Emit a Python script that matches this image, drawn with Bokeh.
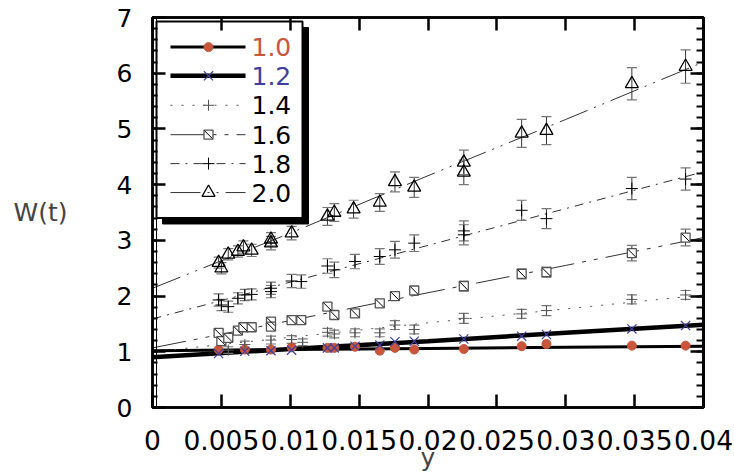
import math

from bokeh.core.properties import value
from bokeh.embed import file_html
from bokeh.models import FixedTicker, LinearAxis, Range1d, Span
from bokeh.plotting import figure
from bokeh.resources import INLINE

FONT = "DejaVu Sans"
RED = "#c9553b"
BLUE = "#3f3f9e"

# ---------------------------------------------------------------- data
x_ticks = [0, 0.005, 0.01, 0.015, 0.02, 0.025, 0.03, 0.035, 0.04]
x_tick_labels = ["0", "0.005", "0.01", "0.015", "0.02", "0.025", "0.03", "0.035", "0.04"]
y_ticks = [0, 1, 2, 3, 4, 5, 6, 7]
y_tick_labels = ["0", "1", "2", "3", "4", "5", "6", "7"]
y_minor_ticks = [i / 5 for i in range(0, 36)]
x_title = "y"
y_title = "W(t)"

series_labels = ["1.0", "1.2", "1.4", "1.6", "1.8", "2.0"]

y10_x = [0.0048, 0.0067, 0.0086, 0.0101, 0.0127, 0.0132, 0.0147, 0.0165, 0.0176, 0.0190,
         0.0226, 0.0268, 0.0286, 0.0348, 0.0387]
y10_w = [1.04, 1.04, 1.04, 1.08, 1.07, 1.07, 1.09, 1.02, 1.07, 1.04,
         1.05, 1.10, 1.14, 1.11, 1.11]

y12_x = [0.0048, 0.0067, 0.0086, 0.0101, 0.0127, 0.0132, 0.0147, 0.0165, 0.0176, 0.0190,
         0.0226, 0.0268, 0.0286, 0.0348, 0.0387]
y12_w = [0.97, 1.01, 1.02, 1.03, 1.07, 1.07, 1.10, 1.12, 1.18, 1.19,
         1.23, 1.28, 1.31, 1.41, 1.47]

y14_x = [0.0055, 0.0067, 0.0086, 0.0101, 0.0109, 0.0127, 0.0132, 0.0147, 0.0165, 0.0176,
         0.0190, 0.0226, 0.0268, 0.0286, 0.0348, 0.0387]
y14_w = [1.03, 1.13, 1.21, 1.22, 1.17, 1.35, 1.32, 1.34, 1.34, 1.48,
         1.40, 1.60, 1.68, 1.74, 1.94, 2.02]
y14_err = [0.06, 0.06, 0.07, 0.07, 0.06, 0.07, 0.07, 0.07, 0.07, 0.08,
           0.08, 0.09, 0.08, 0.09, 0.08, 0.08]

y16_x = [0.0048, 0.0050, 0.0055, 0.0062, 0.0066, 0.0072, 0.0086, 0.0086, 0.0101, 0.0108,
         0.0127, 0.0132, 0.0147, 0.0165, 0.0176, 0.0190, 0.0226, 0.0268, 0.0286, 0.0348,
         0.0387]
y16_w = [1.34, 1.19, 1.25, 1.38, 1.44, 1.44, 1.54, 1.45, 1.57, 1.57,
         1.81, 1.66, 1.69, 1.87, 2.00, 2.10, 2.18, 2.40, 2.43, 2.77,
         3.05]
y16_err = [0.05, 0.05, 0.05, 0.05, 0.05, 0.05, 0.06, 0.06, 0.05, 0.05,
           0.06, 0.06, 0.06, 0.07, 0.07, 0.07, 0.09, 0.09, 0.09, 0.14,
           0.15]

y18_x = [0.0048, 0.0050, 0.0055, 0.0062, 0.0067, 0.0072, 0.0086, 0.0086, 0.0101, 0.0108,
         0.0127, 0.0132, 0.0147, 0.0165, 0.0176, 0.0190, 0.0226, 0.0226, 0.0268, 0.0286,
         0.0348, 0.0387]
y18_w = [1.93, 1.84, 1.81, 1.96, 2.02, 2.03, 2.14, 2.08, 2.27, 2.26,
         2.54, 2.47, 2.62, 2.71, 2.83, 2.95, 3.17, 3.10, 3.54, 3.39,
         3.93, 4.10]
y18_err = [0.11, 0.10, 0.10, 0.10, 0.10, 0.10, 0.11, 0.11, 0.12, 0.12,
           0.13, 0.14, 0.13, 0.14, 0.15, 0.15, 0.18, 0.18, 0.18, 0.18,
           0.20, 0.20]

y20_x = [0.0048, 0.0050, 0.0055, 0.0062, 0.0066, 0.0072, 0.0086, 0.0086, 0.0101, 0.0127,
         0.0132, 0.0146, 0.0165, 0.0176, 0.0190, 0.0226, 0.0226, 0.0268, 0.0286, 0.0348,
         0.0387]
y20_w = [2.60, 2.50, 2.75, 2.80, 2.88, 2.82, 3.02, 2.95, 3.13, 3.43,
         3.50, 3.56, 3.68, 4.05, 3.95, 4.40, 4.22, 4.92, 4.97, 5.81,
         6.12]
y20_err = [0.10, 0.10, 0.10, 0.10, 0.11, 0.11, 0.12, 0.12, 0.12, 0.16,
           0.16, 0.16, 0.16, 0.18, 0.18, 0.22, 0.22, 0.25, 0.25, 0.29,
           0.30]

# fitted curves, sampled along y
fit_x = [0, 0.01, 0.02, 0.03, 0.04]
fit10 = [1.02, 1.04, 1.06, 1.08, 1.10]
fit12 = [0.90, 1.05, 1.19, 1.34, 1.485]
fit14 = [1.00, 1.26, 1.52, 1.77, 2.02]
fit16 = [1.07, 1.56, 2.06, 2.55, 3.05]
fit18 = [1.59, 2.25, 2.91, 3.57, 4.23]
fit20 = [2.14, 3.13, 4.16, 5.17, 6.20]

# ---------------------------------------------------------------- figure
X0, X1, Y0, Y1 = 0.0, 0.04, 0.0, 7.0
FRAME_L, FRAME_R, FRAME_T, FRAME_B = 152, 703, 17, 408
W_PX, H_PX = 734, 474

p = figure(width=W_PX, height=H_PX, output_backend="svg", toolbar_location=None,
           x_range=Range1d(X0, X1), y_range=Range1d(Y0, Y1),
           x_axis_type=None, y_axis_type=None,
           min_border_left=FRAME_L, min_border_right=W_PX - FRAME_R,
           min_border_top=FRAME_T, min_border_bottom=H_PX - FRAME_B)
p.xgrid.visible = False
p.ygrid.visible = False
p.outline_line_color = "black"
p.outline_line_width = 2.5
p.background_fill_color = "white"
p.border_fill_color = "white"

# pixel offsets inside the frame -> data units
sx = (X1 - X0) / (FRAME_R - FRAME_L)
sy = (Y1 - Y0) / (FRAME_B - FRAME_T)


def px_x(px):
    return X0 + (px - FRAME_L) * sx


def px_y(py):
    return Y0 + (FRAME_B - py) * sy


def style_axis(ax):
    ax.axis_line_width = 2.5
    ax.axis_line_color = "black"
    ax.major_tick_in = 13
    ax.major_tick_out = 0
    ax.major_tick_line_width = 2.5
    ax.minor_tick_out = 0
    ax.minor_tick_line_width = 2
    ax.major_label_standoff = 20
    ax.major_label_text_font = FONT
    ax.major_label_text_color = "black"
    return ax


def tick_only_axis(positions, length, width):
    # an axis that carries inward ticks only (no labels)
    ax = LinearAxis(ticker=FixedTicker(ticks=[], minor_ticks=positions))
    ax.axis_line_width = 2.5
    ax.axis_line_color = "black"
    ax.major_tick_in = 0
    ax.major_tick_out = 0
    ax.minor_tick_in = length
    ax.minor_tick_out = 0
    ax.minor_tick_line_width = width
    ax.major_label_standoff = 0
    return ax


xb = style_axis(LinearAxis(ticker=FixedTicker(ticks=x_ticks, minor_ticks=[])))
xb.major_label_overrides = {t: s for t, s in zip(x_ticks, x_tick_labels)}
xb.major_label_text_font_size = "26.5px"
xb.major_label_standoff = 22
xb.axis_label = x_title
xb.axis_label_text_font = FONT
xb.axis_label_text_font_size = "25px"
xb.axis_label_text_font_style = "normal"
xb.axis_label_standoff = -10
p.add_layout(xb, "below")

yl = style_axis(LinearAxis(ticker=FixedTicker(ticks=y_ticks, minor_ticks=y_minor_ticks)))
yl.minor_tick_in = 5
yl.major_label_overrides = {t: s for t, s in zip(y_ticks, y_tick_labels)}
yl.major_label_text_font_size = "25px"
yl.axis_label = y_title
yl.axis_label_orientation = "horizontal"
yl.axis_label_text_font = FONT
yl.axis_label_text_font_size = "25px"
yl.axis_label_text_font_style = "normal"
yl.axis_label_standoff = 46
p.add_layout(yl, "left")

p.add_layout(tick_only_axis(x_ticks, 13, 2.5), "above")
p.add_layout(tick_only_axis(y_ticks, 13, 2.5), "right")
p.add_layout(tick_only_axis(y_minor_ticks, 7, 2), "right")

# inner rail of the left axis
p.add_layout(Span(location=px_x(156), dimension="height", line_color="black", line_width=1))

# ---------------------------------------------------------------- fitted lines
styles = {
    "1.0": dict(line_color="black", line_width=3, line_dash="solid"),
    "1.2": dict(line_color="black", line_width=4.5, line_dash="solid"),
    "1.4": dict(line_color="#555555", line_width=1, line_dash="2 9"),
    "1.6": dict(line_color="#333333", line_width=1, line_dash="34 8 4 8 4 8"),
    "1.8": dict(line_color="#333333", line_width=1, line_dash="9 6 2 6"),
    "2.0": dict(line_color="#333333", line_width=1, line_dash="30 7 2 7 2 7"),
}
for lab, fy in zip(series_labels, [fit10, fit12, fit14, fit16, fit18, fit20]):
    p.line(fit_x, fy, **styles[lab])

# ---------------------------------------------------------------- error bars
for xs, ws, es in [(y14_x, y14_w, y14_err), (y16_x, y16_w, y16_err),
                   (y18_x, y18_w, y18_err), (y20_x, y20_w, y20_err)]:
    lo = [w - e for w, e in zip(ws, es)]
    hi = [w + e for w, e in zip(ws, es)]
    p.segment(x0=xs, y0=lo, x1=xs, y1=hi, line_color="#333333", line_width=1)
    p.scatter(xs + xs, lo + hi, marker="dash", size=10, line_color="#777777", line_width=1.2)

# ---------------------------------------------------------------- markers
marker_kw = {
    "1.0": [dict(marker="circle", size=9, fill_color=RED, line_color=RED)],
    "1.2": [dict(marker="x", size=13, line_color=BLUE, line_width=1.2)],
    "1.4": [dict(marker="cross", size=11, line_color="#555555", line_width=1)],
    "1.6": [dict(marker="square", size=9, fill_color="white", line_color="#555555", line_width=1.3),
            dict(marker="dash", size=11, angle=-math.pi / 4, line_color="black", line_width=1)],
    "1.8": [dict(marker="cross", size=12, line_color="black", line_width=1)],
    "2.0": [dict(marker="triangle", size=13, fill_alpha=0, line_color="black", line_width=1.3)],
}
for lab, xs, ws in zip(series_labels,
                       [y10_x, y12_x, y14_x, y16_x, y18_x, y20_x],
                       [y10_w, y12_w, y14_w, y16_w, y18_w, y20_w]):
    for kw in marker_kw[lab]:
        p.scatter(xs, ws, **kw)

# ---------------------------------------------------------------- legend box
p.quad(left=[px_x(162)], right=[px_x(308)], top=[px_y(27)], bottom=[px_y(224)],
       fill_color="black", line_color="black")
p.quad(left=[px_x(156)], right=[px_x(302)], top=[px_y(21)], bottom=[px_y(218)],
       fill_color="white", line_color="black", line_width=2)

row_py = [46.7, 75.5, 105, 134.5, 163.5, 192.5]
leg_x0, leg_x1, leg_mx, leg_tx = px_x(170), px_x(245), px_x(208), px_x(251)
text_colors = [RED, BLUE, "black", "black", "black", "black"]
for lab, py in zip(series_labels, row_py):
    yy = px_y(py)
    p.line([leg_x0, leg_x1], [yy, yy], **styles[lab])
    for kw in marker_kw[lab]:
        p.scatter([leg_mx], [yy], **kw)
p.text(x=[leg_tx] * len(series_labels), y=[px_y(py) for py in row_py], text=series_labels,
       text_color=text_colors, text_font=value(FONT), text_font_size="25px",
       text_baseline="middle", text_align="left")

open("out.html", "w").write(file_html(p, INLINE))
